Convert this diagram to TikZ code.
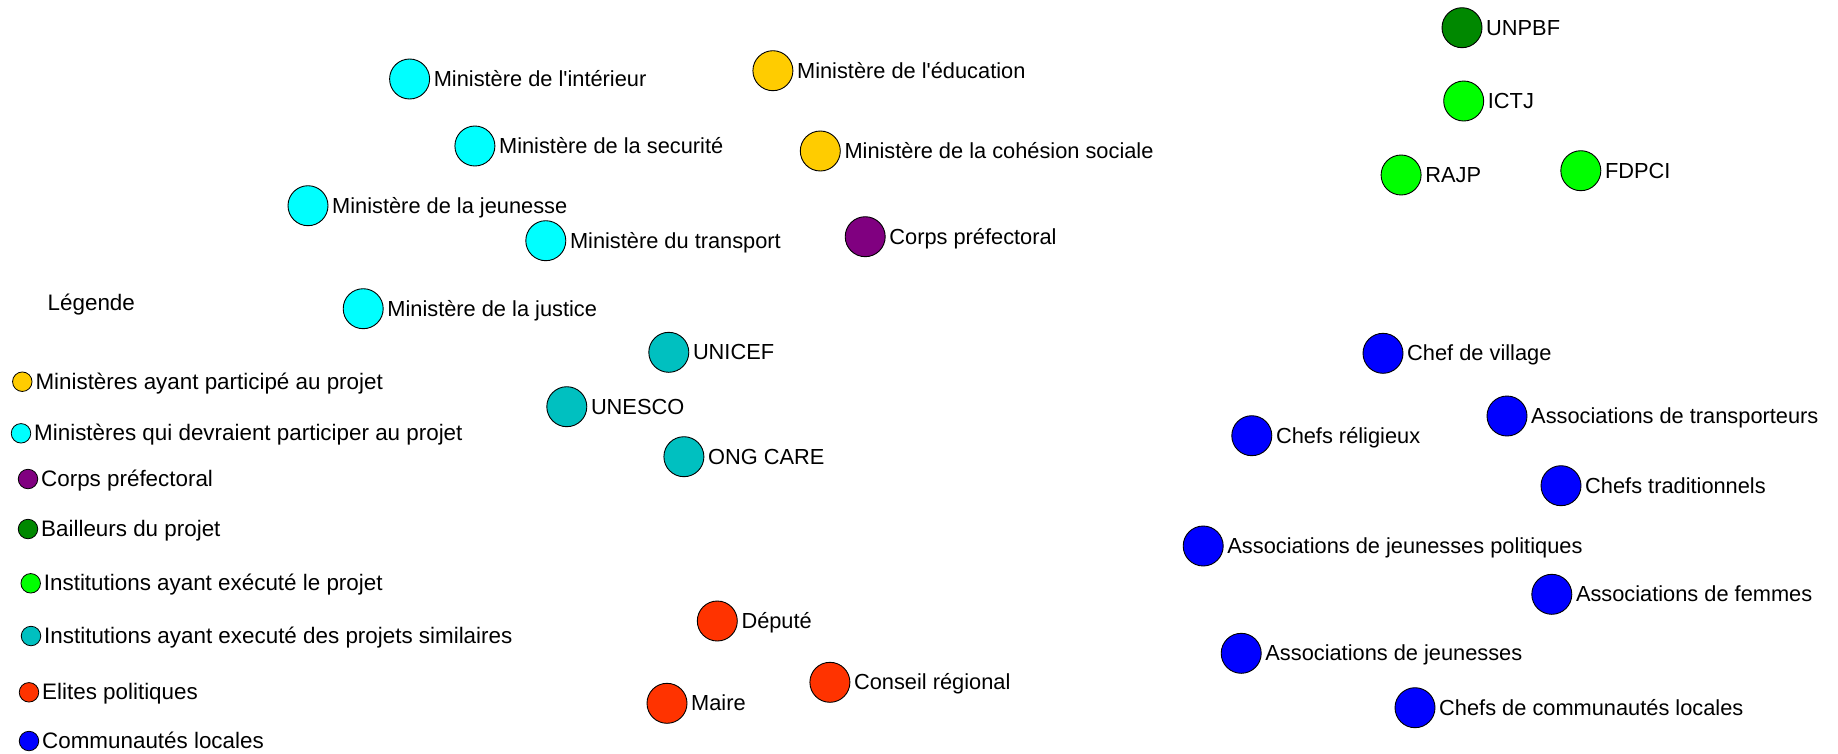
\documentclass[tikz,border=0pt]{standalone}
\usepackage{fontspec}
\setmainfont{Liberation Sans}
\definecolor{cMinPart}{HTML}{FFCC00}
\definecolor{cMinDev}{HTML}{00FFFF}
\definecolor{cPref}{HTML}{800080}
\definecolor{cBail}{HTML}{008800}
\definecolor{cExec}{HTML}{00FF00}
\definecolor{cSim}{HTML}{00C0C0}
\definecolor{cElite}{HTML}{FF3300}
\definecolor{cComm}{HTML}{0000FF}
% actor: #1 name, #2 x, #3 y, #4 fill colour, #5 text
\newcommand\actor[5]{%
  \node[dot, fill=#4] (#1) at (#2,#3) {};
  \node[txt] (#1-t) at ([xshift=24pt, yshift=-7.5pt]#1.center) {#5};}
% legend entry: #1 name, #2 x, #3 y, #4 fill colour, #5 text
\newcommand\keyentry[5]{%
  \node[keydot, fill=#4] (#1) at (#2,#3) {};
  \node[keytxt] (#1-t) at ([xshift=13pt, yshift=-7.6pt]#1.center) {#5};}
\newcommand\apos{\textquotesingle}
\begin{document}
\begin{tikzpicture}[x=1pt, y=-1pt,
  dot/.style={circle, draw=black, line width=0.9pt, minimum size=40pt, inner sep=0pt},
  keydot/.style={circle, draw=black, line width=0.8pt, minimum size=19.5pt, inner sep=0pt},
  txt/.style={anchor=base west, inner sep=0pt, text=black, font=\fontsize{21.8}{24}\selectfont},
  keytxt/.style={txt, font=\fontsize{22.4}{24}\selectfont}]
\useasboundingbox[fill=white] (0,0) rectangle (1838,753);

% ministries
\actor{interieur}{409.6}{79}{cMinDev}{Ministère de l\apos intérieur}
\actor{education}{772.9}{70.7}{cMinPart}{Ministère de l\apos éducation}
\actor{securite}{474.9}{146}{cMinDev}{Ministère de la securité}
\actor{cohesion}{820.3}{151}{cMinPart}{Ministère de la cohésion sociale}
\actor{jeunesse}{308}{205.7}{cMinDev}{Ministère de la jeunesse}
\actor{transport}{545.8}{240.7}{cMinDev}{Ministère du transport}
\actor{prefectoral}{865.2}{236.7}{cPref}{Corps préfectoral}
\actor{justice}{363.2}{308.7}{cMinDev}{Ministère de la justice}

% institutions with similar projects
\actor{unicef}{668.8}{352.3}{cSim}{UNICEF}
\actor{unesco}{566.8}{406.7}{cSim}{UNESCO}
\actor{care}{683.9}{456.7}{cSim}{ONG CARE}

% political elites
\actor{depute}{717.3}{621}{cElite}{Député}
\actor{conseil}{829.9}{682.3}{cElite}{Conseil régional}
\actor{maire}{667}{703.3}{cElite}{Maire}

% donors and executing institutions
\actor{unpbf}{1462}{27.7}{cBail}{UNPBF}
\actor{ictj}{1463.7}{101}{cExec}{ICTJ}
\actor{rajp}{1401.1}{175}{cExec}{RAJP}
\actor{fdpci}{1580.8}{170.7}{cExec}{FDPCI}

% local communities
\actor{village}{1383}{353.3}{cComm}{Chef de village}
\actor{transporteurs}{1507}{416}{cComm}{Associations de transporteurs}
\actor{religieux}{1251.8}{435.7}{cComm}{Chefs réligieux}
\actor{traditionnels}{1561}{485.7}{cComm}{Chefs traditionnels}
\actor{jpolitiques}{1203.2}{546}{cComm}{Associations de jeunesses politiques}
\actor{femmes}{1551.8}{594.3}{cComm}{Associations de femmes}
\actor{jeunesses}{1241.2}{653.3}{cComm}{Associations de jeunesses}
\actor{communautes}{1415}{707.7}{cComm}{Chefs de communautés locales}

% legend
\node[keytxt] (legende) at (47.5,310.7) {Légende};
\keyentry{kMinPart}{22.3}{381.7}{cMinPart}{Ministères ayant participé au projet}
\keyentry{kMinDev}{21}{433.3}{cMinDev}{Ministères qui devraient participer au projet}
\keyentry{kPref}{28}{479}{cPref}{Corps préfectoral}
\keyentry{kBail}{28}{529}{cBail}{Bailleurs du projet}
\keyentry{kExec}{30.7}{583.3}{cExec}{Institutions ayant exécuté le projet}
\keyentry{kSim}{31}{636}{cSim}{Institutions ayant executé des projets similaires}
\keyentry{kElite}{29}{692.3}{cElite}{Elites politiques}
\keyentry{kComm}{29}{741}{cComm}{Communautés locales}
\end{tikzpicture}
\end{document}
